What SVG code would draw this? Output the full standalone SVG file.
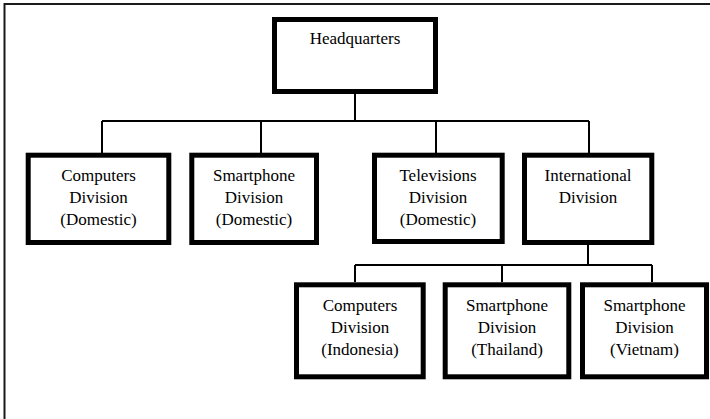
<svg xmlns="http://www.w3.org/2000/svg" width="710" height="419" viewBox="0 0 710 419">
  <style>
    .box { fill: #ffffff; stroke: #000000; stroke-width: 5; }
    .link { fill: none; stroke: #000000; stroke-width: 2; }
    .frame { fill: none; stroke: #1a1a1a; stroke-width: 2; }
    text { font-family: "Liberation Serif", "Times New Roman", serif; font-size: 17px; fill: #000000; text-anchor: middle; }
  </style>
  <rect x="0" y="0" width="710" height="419" fill="#ffffff"/>
  <!-- page frame: top and left rules -->
  <path class="frame" d="M4.5,419 V4 H710"/>

  <g id="connectors">
    <path class="link" d="M355,94 V121 M102,121 H589 M102,121 V153 M261,121 V153 M436,121 V153 M589,121 V153"/>
    <path class="link" d="M588,245 V265 M355,265 H652 M355,265 V282 M502,265 V282 M652,265 V282"/>
  </g>

  <g id="headquarters">
    <rect class="box" x="274.5" y="19.5" width="161" height="72"/>
    <text x="355" y="43.5">Headquarters</text>
  </g>

  <g id="computers-domestic">
    <rect class="box" x="28.2" y="155.2" width="140.6" height="87.3"/>
    <text x="98.5" y="181">Computers</text>
    <text x="98.5" y="203">Division</text>
    <text x="98.5" y="225">(Domestic)</text>
  </g>

  <g id="smartphone-domestic">
    <rect class="box" x="191.8" y="155.2" width="124.7" height="87.3"/>
    <text x="254" y="181">Smartphone</text>
    <text x="254" y="203">Division</text>
    <text x="254" y="225">(Domestic)</text>
  </g>

  <g id="televisions-domestic">
    <rect class="box" x="374.5" y="155.2" width="127.7" height="86.3"/>
    <text x="438" y="181">Televisions</text>
    <text x="438" y="203">Division</text>
    <text x="438" y="225">(Domestic)</text>
  </g>

  <g id="international">
    <rect class="box" x="524.5" y="155.2" width="127.3" height="87.3"/>
    <text x="588" y="181">International</text>
    <text x="588" y="203">Division</text>
  </g>

  <g id="computers-indonesia">
    <rect class="box" x="296.5" y="284.8" width="126.7" height="92"/>
    <text x="360" y="311">Computers</text>
    <text x="360" y="333">Division</text>
    <text x="360" y="355">(Indonesia)</text>
  </g>

  <g id="smartphone-thailand">
    <rect class="box" x="445.2" y="284.8" width="123.6" height="92"/>
    <text x="507" y="311">Smartphone</text>
    <text x="507" y="333">Division</text>
    <text x="507" y="355">(Thailand)</text>
  </g>

  <g id="smartphone-vietnam">
    <rect class="box" x="582.5" y="284.8" width="124" height="92"/>
    <text x="644.5" y="311">Smartphone</text>
    <text x="644.5" y="333">Division</text>
    <text x="644.5" y="355">(Vietnam)</text>
  </g>
</svg>
